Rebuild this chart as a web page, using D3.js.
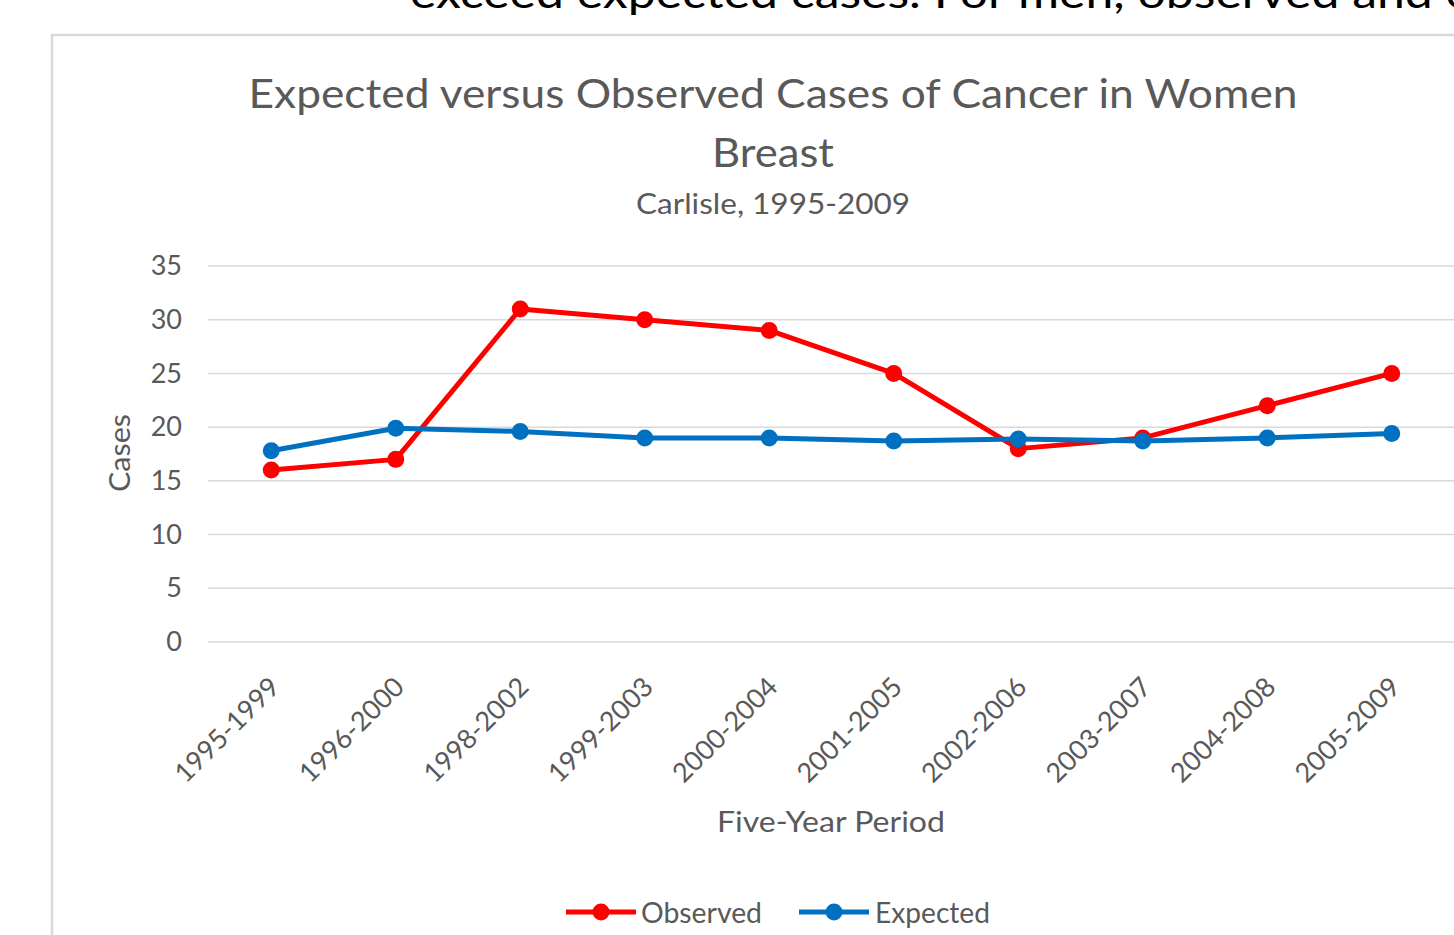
<!DOCTYPE html>
<html>
<head>
<meta charset="utf-8">
<script src="https://cdn.jsdelivr.net/npm/d3@7"></script>
<style>
html,body{margin:0;padding:0;background:#fff;overflow:hidden;}
svg{display:block;font-family:Lato,"Open Sans",sans-serif;}
</style>
</head>
<body>
<svg id="chart" width="1454" height="935"></svg>
<script>
const periods = ["1995-1999","1996-2000","1998-2002","1999-2003","2000-2004","2001-2005","2002-2006","2003-2007","2004-2008","2005-2009"];
const observed = [16,17,31,30,29,25,18,19,22,25];
const expected = [17.8,19.9,19.6,19.0,19.0,18.7,18.9,18.7,19.0,19.4];
const yTicks = [0,5,10,15,20,25,30,35];
const seriesNames = ["Observed","Expected"];
const seriesColors = ["#FF0000","#0070C0"];

const svg = d3.select("#chart");
const textColor = "#595959";

// text fragment above the chart (cut off at the top, as in the source)
svg.append("text").attr("x",410).attr("y",7.5).attr("font-size",42)
  .attr("fill","#000").attr("font-family","Lato, sans-serif")
  .attr("textLength",1062).attr("lengthAdjust","spacingAndGlyphs")
  .text("exceed expected cases. For men, observed and e");

// chart area
svg.append("rect").attr("x",52).attr("y",35).attr("width",1500).attr("height",1000)
  .attr("fill","#fff").attr("stroke","#d9d9d9").attr("stroke-width",2.5);

const x = d3.scalePoint().domain(periods).range([209,1454]).padding(0.5);
const y = d3.scaleLinear().domain([0,35]).range([642,266]);

// gridlines
svg.append("g").selectAll("line").data(yTicks).join("line")
  .attr("x1",208).attr("x2",1454)
  .attr("y1",d=>y(d)).attr("y2",d=>y(d))
  .attr("stroke","#d9d9d9").attr("stroke-width",1.5);

// y axis
const yAxis = svg.append("g").attr("transform","translate(208,0)")
  .call(d3.axisLeft(y).tickValues(yTicks).tickSize(0).tickPadding(26));
yAxis.select(".domain").remove();
yAxis.selectAll("text").attr("font-size",27).attr("fill",textColor)
  .attr("font-family","Lato, sans-serif");

// x axis
const xAxis = svg.append("g").attr("transform","translate(0,642)")
  .call(d3.axisBottom(x).tickSize(0).tickPadding(0));
xAxis.select(".domain").remove();
xAxis.selectAll("text").attr("font-size",27).attr("fill",textColor)
  .attr("font-family","Lato, sans-serif")
  .attr("text-anchor","end").attr("dy","0.35em")
  .attr("transform","translate(3,40) rotate(-45)");

// titles
function addText(str,cx,cy,size,len){
  const t = svg.append("text").attr("x",cx).attr("y",cy).attr("text-anchor","middle")
    .attr("dominant-baseline","central").attr("font-size",size).attr("fill",textColor)
    .text(str);
  if(len) t.attr("textLength",len).attr("lengthAdjust","spacingAndGlyphs");
  return t;
}
addText("Expected versus Observed Cases of Cancer in Women",773,93,40,1049);
addText("Breast",773,152,40,122);
addText("Carlisle, 1995-2009",773,202,29,274);
addText("Five-Year Period",831,820,29,228);
addText("Cases",0,0,29,78).attr("transform","translate(118,453) rotate(-90)");

// lines
const data = [observed, expected];
const line = d3.line().x((d,i)=>x(periods[i])).y(d=>y(d));
data.forEach((vals,si)=>{
  const g = svg.append("g");
  g.append("path").datum(vals).attr("d",line).attr("fill","none")
    .attr("stroke",seriesColors[si]).attr("stroke-width",5).attr("stroke-linejoin","round");
  g.selectAll("circle").data(vals).join("circle")
    .attr("cx",(d,i)=>x(periods[i])).attr("cy",d=>y(d)).attr("r",8.5)
    .attr("fill",seriesColors[si]);
});

// legend
const legendItems = [{x0:566, tx:641, len:121},{x0:799, tx:875, len:115}];
seriesNames.forEach((name,i)=>{
  const L = legendItems[i];
  const g = svg.append("g");
  g.append("line").attr("x1",L.x0).attr("x2",L.x0+70).attr("y1",912).attr("y2",912)
    .attr("stroke",seriesColors[i]).attr("stroke-width",5);
  g.append("circle").attr("cx",L.x0+35).attr("cy",912).attr("r",8.5).attr("fill",seriesColors[i]);
  g.append("text").attr("x",L.tx).attr("y",912).attr("dominant-baseline","central")
    .attr("font-size",28).attr("fill",textColor)
    .attr("textLength",L.len).attr("lengthAdjust","spacingAndGlyphs").text(name);
});
</script>
</body>
</html>
